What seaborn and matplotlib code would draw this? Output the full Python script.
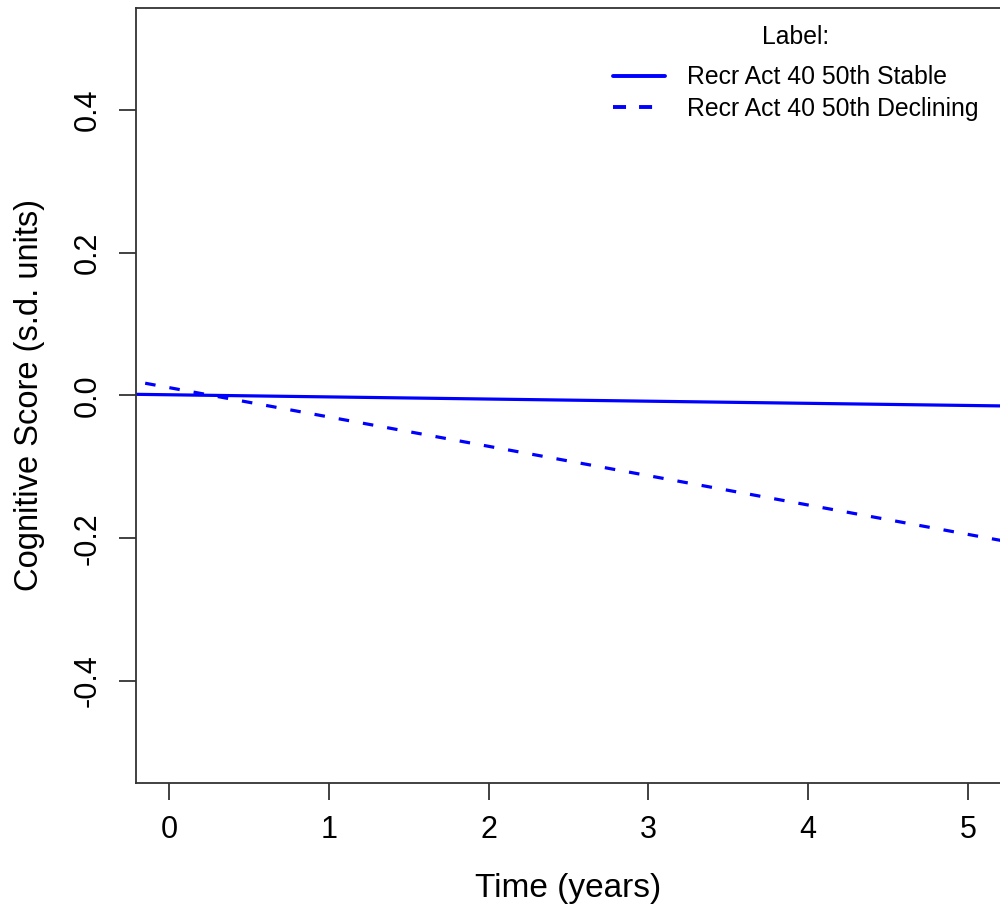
import numpy as np
import pandas as pd
import matplotlib
matplotlib.use("Agg")
import matplotlib.pyplot as plt
import seaborn as sns
from matplotlib.lines import Line2D

# ---- data ----
time_years = [-0.3, 5.3]
stable_vals = [0.0019, -0.0149]
declining_vals = [0.0234, -0.2070]
labels = ["Recr Act 40 50th Stable", "Recr Act 40 50th Declining"]
legend_title = "Label:"
x_ticks = [0, 1, 2, 3, 4, 5]
y_ticks = [-0.4, -0.2, 0.0, 0.2, 0.4]

df = pd.DataFrame({
    "Time": time_years * 2,
    "Score": stable_vals + declining_vals,
    "Label": [labels[0]] * len(time_years) + [labels[1]] * len(time_years),
})

sns.set_style("white")
plt.rcParams["font.family"] = ["Liberation Sans", "DejaVu Sans"]
plt.rcParams["text.color"] = "black"
plt.rcParams["axes.labelcolor"] = "black"
plt.rcParams["xtick.color"] = "black"
plt.rcParams["ytick.color"] = "black"

fig = plt.figure(figsize=(10, 9.08), dpi=100)
ax = fig.add_axes([0.136, 0.1377, 0.864, 0.8535])

sns.lineplot(data=df, x="Time", y="Score", style="Label",
             style_order=labels, dashes={labels[0]: "", labels[1]: (3.3, 4.4)},
             color="#0000FF", linewidth=2.3, ax=ax, legend=False)

ax.set_xlim(-0.206, 5.2)
ax.set_ylim(-0.543, 0.543)
ax.set_xticks(x_ticks)
ax.set_yticks(y_ticks)
ax.set_xticklabels([str(v) for v in x_ticks], fontsize=22)
ax.set_yticklabels([f"{v:.1f}" for v in y_ticks], fontsize=22, rotation=90, va="center")
ax.tick_params(axis="both", direction="out", length=12, width=1.3, color="#333333",
               labelcolor="black", bottom=True, left=True)
ax.tick_params(axis="x", pad=11)
ax.tick_params(axis="y", pad=12)
for side in ["left", "bottom", "top"]:
    ax.spines[side].set_color("#333333")
    ax.spines[side].set_linewidth(1.3)
ax.spines["right"].set_visible(False)

ax.set_xlabel("Time (years)", fontsize=24, labelpad=20, color="black")
ax.set_ylabel("Cognitive Score (s.d. units)", fontsize=23.5, labelpad=20, color="black")

handles = [Line2D([], [], color="#0000FF", lw=2.8, linestyle="-"),
           Line2D([], [], color="#0000FF", lw=2.8, linestyle=(0, (3.35, 3.35)))]
leg = ax.legend(handles, labels, loc="upper right",
                bbox_to_anchor=(0.991, 1 - 53 / 908), bbox_transform=fig.transFigure,
                frameon=False, fontsize=17.8,
                handlelength=2.1, handletextpad=0.9, labelspacing=0.3,
                borderpad=0)
for t in leg.get_texts():
    t.set_color("black")
fig.text(0.796, 1 - 37 / 908, legend_title, ha="center", va="center",
         fontsize=17.8, color="black")

fig.savefig("out.png", dpi=100)
